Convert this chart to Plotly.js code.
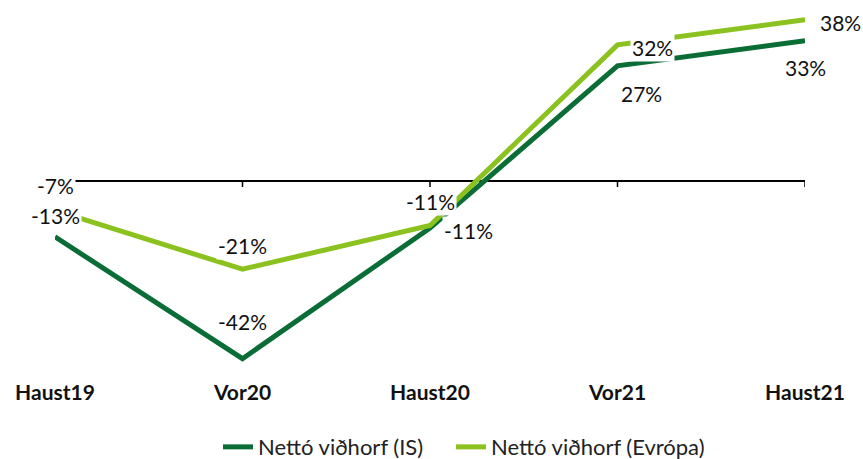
<!DOCTYPE html>
<html>
<head>
<meta charset="utf-8">
<script src="https://cdn.plot.ly/plotly-3.0.1.min.js"></script>
<style>html,body{margin:0;padding:0;background:#fff;}#chart{width:863px;height:459px;}</style>
</head>
<body>
<div id="chart"></div>
<script>
const categories = ['Haust19', 'Vor20', 'Haust20', 'Vor21', 'Haust21'];
const nettoIS = [-13.3, -42.3, -11.2, 27.4, 33.4];
const nettoEvropa = [-7, -21, -10.6, 32.4, 38.4];
const seriesNames = ['Nettó viðhorf (IS)', 'Nettó viðhorf (Evrópa)'];

const colIS = '#0b6d36';
const colEv = '#8cc21f';

const labelOffsetsIS = [[0, 21], [0, 37], [38, -2], [24, -28], [0, -27]];
const labelOffsetsEv = [[0, 25], [0, 24], [0, 24], [35, -3], [35, -3]];

const fmt = v => Math.round(v) + '%';

const traces = [
  {x: categories, y: nettoIS, name: seriesNames[0], type: 'scatter', mode: 'lines',
   line: {color: colIS, width: 5}, hoverinfo: 'skip', legend: 'legend'},
  {x: categories, y: nettoEvropa, name: seriesNames[1], type: 'scatter', mode: 'lines',
   line: {color: colEv, width: 5}, hoverinfo: 'skip', legend: 'legend2'}
];

const annotations = [];
function addLabels(vals, offs) {
  vals.forEach((v, i) => {
    annotations.push({
      x: categories[i], y: v, xref: 'x', yref: 'y', text: fmt(v), showarrow: false,
      xshift: offs[i][0], yshift: offs[i][1], bgcolor: '#ffffff', borderpad: 1,
      font: {family: 'Lato, sans-serif', size: 21, color: '#111'}
    });
  });
}
addLabels(nettoIS, labelOffsetsIS);
addLabels(nettoEvropa, labelOffsetsEv);

const shapes = categories.map(c => ({
  type: 'line', xref: 'x', yref: 'y', x0: c, x1: c, ysizemode: 'pixel', yanchor: 0,
  y0: 0, y1: -6, line: {color: '#000', width: 1.5}, layer: 'below'
}));

const legendFont = {family: 'Lato, sans-serif', size: 22, color: '#222'};

const layout = {
  width: 863, height: 459,
  margin: {l: 55, r: 58, t: 10, b: 81, autoexpand: false},
  paper_bgcolor: '#fff', plot_bgcolor: '#fff',
  showlegend: true,
  legend: {orientation: 'h', xref: 'container', yref: 'container',
           x: 0.2526, xanchor: 'left', y: 0.026, yanchor: 'middle', font: legendFont},
  legend2: {orientation: 'h', xref: 'container', yref: 'container',
           x: 0.5226, xanchor: 'left', y: 0.026, yanchor: 'middle', font: legendFont},
  xaxis: {type: 'category', range: [0, 4], showgrid: false, zeroline: false, showline: false,
          ticks: '', automargin: false,
          tickfont: {family: 'Lato, sans-serif', size: 21, color: '#111', weight: 'bold'}},
  yaxis: {range: [-46.9, 40.7], showgrid: false, showticklabels: false, zeroline: true,
          zerolinecolor: '#000', zerolinewidth: 1.5, showline: false, ticks: '', automargin: false},
  annotations: annotations,
  shapes: shapes
};

Plotly.newPlot('chart', traces, layout, {displayModeBar: false, staticPlot: true});
</script>
</body>
</html>
